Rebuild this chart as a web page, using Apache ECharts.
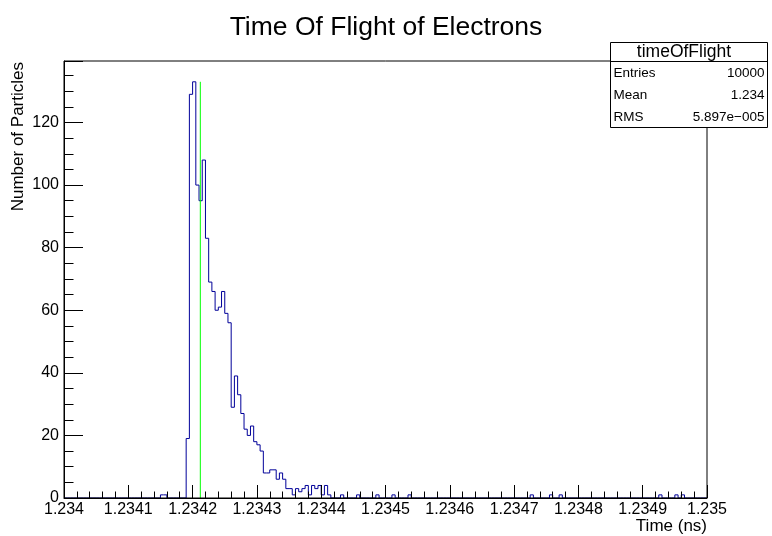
<!DOCTYPE html>
<html>
<head>
<meta charset="utf-8">
<script src="https://cdn.jsdelivr.net/npm/echarts@6/dist/echarts.min.js"></script>
<style>
html,body{margin:0;padding:0;background:#fff;}
#chart{width:772px;height:536px;}
</style>
</head>
<body>
<div id="chart"></div>
<script>
// ---- data ----
const chartTitle = "Time Of Flight of Electrons";
const xTitle = "Time (ns)";
const yTitle = "Number of Particles";
const xMin = 1.234, xMax = 1.235, nBins = 200;
const xTickStep = 0.0001;
const yTickStep = 20;
const yMax = 139.65;
// bin contents, 200 bins of 5e-6 ns from 1.234 to 1.235
const counts = [
  0,0,0,0,0,0,0,0,0,0,
  0,0,0,0,0,0,0,0,0,0,
  0,0,0,0,0,0,0,0,0,0,
  1,1,0,0,0,0,0,0,19,129,
  133,100,95,108,83,69,66,60,61,66,
  59,56,29,39,33,27,22,20,23,18,
  17,15,8,8,9,9,6,8,6,3,
  3,1,3,2,3,4,1,4,3,4,
  1,4,1,0,0,0,1,0,0,0,
  0,1,0,0,0,0,0,1,0,0,
  0,0,1,0,0,0,0,1,0,0,
  0,0,0,0,0,0,0,0,0,0,
  0,0,0,0,0,0,0,0,0,0,
  0,0,0,0,0,0,0,0,0,0,
  0,0,0,0,0,1,0,0,0,0,
  0,1,0,0,1,0,0,0,0,0,
  0,0,0,0,0,0,0,0,0,0,
  0,0,0,0,0,0,0,0,0,0,
  0,0,0,0,0,1,0,0,0,0,
  1,0,1,0,0,0,0,0,0,0
];
const markerX = 1.234212;   // green vertical line
const markerTop = 133;
const statTitle = "timeOfFlight";
const statLabels = ["Entries", "Mean", "RMS"];
const statValues = ["10000", "1.234", "5.897e\u2212005"];

// ---- build step outline ----
const binW = (xMax - xMin) / nBins;
const histPts = [];
for (let i = 0; i < nBins; i++) histPts.push([xMin + i * binW, counts[i]]);
histPts.push([xMax, counts[nBins - 1]]);

const FONT = "Liberation Sans, Arial, Helvetica, sans-serif";
const chart = echarts.init(document.getElementById('chart'), null, {renderer: 'canvas'});

const statX = 610.5, statY = 42.5, statW = 157, statH = 85, statHead = 19;
const rowH = (statH - statHead) / 3;
const graphics = [
  {type:'text', z:100, x:386, y:28, style:{text:chartTitle, font:'26.5px ' + FONT, fill:'#000', textAlign:'center', textVerticalAlign:'middle'}},
  {type:'text', z:100, x:707, y:526, style:{text:xTitle, font:'17px ' + FONT, fill:'#000', textAlign:'right', textVerticalAlign:'middle'}},
  {type:'text', z:100, x:18.5, y:62, rotation:Math.PI/2, style:{text:yTitle, font:'17px ' + FONT, fill:'#000', textAlign:'right', textVerticalAlign:'middle'}},
  {type:'rect', z:100, shape:{x:statX, y:statY, width:statW, height:statH}, style:{fill:'#fff', stroke:'#000', lineWidth:1}},
  {type:'line', z:101, shape:{x1:statX, y1:statY + statHead, x2:statX + statW, y2:statY + statHead}, style:{stroke:'#000', lineWidth:1}},
  {type:'text', z:101, x:statX + statW / 2 - 5, y:statY + statHead / 2 + 0.5, style:{text:statTitle, font:'17.5px ' + FONT, fill:'#000', textAlign:'center', textVerticalAlign:'middle'}}
];
statLabels.forEach((lab, k) => {
  const cy = statY + statHead + rowH * (k + 0.5) + 1;
  graphics.push({type:'text', z:101, x:statX + 3, y:cy, style:{text:lab, font:'13.5px ' + FONT, fill:'#000', textAlign:'left', textVerticalAlign:'middle'}});
  graphics.push({type:'text', z:101, x:statX + statW - 3, y:cy, style:{text:statValues[k], font:'13.5px ' + FONT, fill:'#000', textAlign:'right', textVerticalAlign:'middle'}});
});

chart.setOption({
  animation: false,
  backgroundColor: '#fff',
  grid: {left:64, right:65, top:61, bottom:38, show:true, borderColor:'#000', borderWidth:1, z:10, backgroundColor:'transparent'},
  xAxis: {
    type:'value', min:xMin, max:xMax, interval:xTickStep, z:10,
    axisLine:{show:true, lineStyle:{color:'#000', width:1}},
    axisTick:{show:true, inside:true, length:13, lineStyle:{color:'#000', width:1}},
    minorTick:{show:true, splitNumber:5, length:6.5, lineStyle:{color:'#000', width:1}},
    splitLine:{show:false}, minorSplitLine:{show:false},
    axisLabel:{margin:4, fontSize:16, color:'#000', fontFamily:FONT, showMinLabel:true, showMaxLabel:true}
  },
  yAxis: {
    type:'value', min:0, max:yMax, interval:yTickStep, z:10,
    axisLine:{show:true, lineStyle:{color:'#000', width:1}},
    axisTick:{show:true, inside:true, length:19, lineStyle:{color:'#000', width:1}},
    minorTick:{show:true, splitNumber:4, length:9.5, lineStyle:{color:'#000', width:1}},
    splitLine:{show:false}, minorSplitLine:{show:false},
    axisLabel:{margin:5, fontSize:16, color:'#000', fontFamily:FONT, showMaxLabel:false}
  },
  series: [
    {type:'line', data:histPts, step:'end', symbol:'none', showSymbol:false, z:2,
     lineStyle:{color:'#000099', width:1}, silent:true},
    {type:'line', data:[[markerX, 0], [markerX, markerTop]], symbol:'none', showSymbol:false, z:3,
     lineStyle:{color:'#00ff00', width:1}, silent:true}
  ],
  graphic: graphics
});
</script>
</body>
</html>
